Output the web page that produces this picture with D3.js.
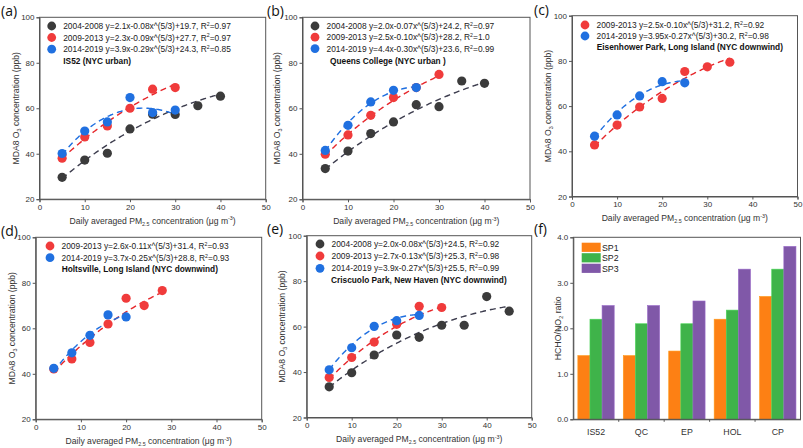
<!DOCTYPE html>
<html><head><meta charset="utf-8">
<script src="https://cdn.jsdelivr.net/npm/d3@7"></script>
<style>body{margin:0;background:#fff}svg{display:block}</style>
</head><body>
<svg id="chart" width="803" height="448"></svg>
<script>
// ---------------- DATA ----------------
const xStep5 = [5,10,15,20,25,30,35,40];
const xStep5e = [5,10,15,20,25,30,35,40,45];
const xStep4 = [4,8,12,16,20,24,28];

// (a) IS52
const a_p1 = [29.6, 37.2, 40.2, 50.9, 57.4, 57.3, 61.1, 65.3];
const a_p2 = [38.0, 47.4, 52.2, 60.0, 68.4, 69.1];
const a_p3 = [40.1, 50.0, 54.0, 64.7, 58.1, 59.2];
// (b) Queens College
const b_p1 = [33.5, 41.2, 48.9, 54.0, 61.6, 60.7, 72.0, 71.0];
const b_p2 = [39.8, 48.3, 56.9, 64.7, 69.1, 74.9];
const b_p3 = [41.5, 52.5, 62.8, 67.9, 69.1];
// (c) Eisenhower Park
const c_p2 = [42.8, 51.6, 59.6, 63.4, 75.3, 77.4, 79.4];
const c_p3 = [46.7, 56.1, 64.5, 70.8, 70.3];
// (d) Holtsville
const d_p2 = [42.1, 46.5, 53.8, 61.9, 73.2, 70.0, 76.6];
const d_p3 = [42.4, 49.2, 56.9, 65.9, 65.0];
// (e) Criscuolo Park
const e_p1 = [33.5, 39.7, 47.5, 56.3, 55.3, 60.6, 60.6, 73.2, 66.8];
const e_p2 = [37.6, 46.4, 53.2, 61.0, 68.9, 68.4];
const e_p3 = [41.0, 50.7, 60.1, 62.6, 64.9];

// fit coefficients [a, b, c] for y = a*x - b*x^(5/3) + c (from legends)
const a_fit = [[2.1,0.08,19.7],[2.3,0.09,27.7],[3.9,0.29,24.3]];
const b_fit = [[2.0,0.07,24.2],[2.5,0.10,28.2],[4.4,0.30,23.6]];
const c_fit = [[2.5,0.10,31.2],[3.95,0.27,30.2]];
const d_fit = [[2.6,0.11,31.4],[3.7,0.25,28.8]];
const e_fit = [[2.0,0.08,24.5],[2.7,0.13,25.3],[3.9,0.27,25.5]];

const periods = ["2004-2008","2009-2013","2014-2019"];
const a_legend = [["2.1x-0.08x^(5/3)+19.7","0.97"],["2.3x-0.09x^(5/3)+27.7","0.97"],["3.9x-0.29x^(5/3)+24.3","0.85"]];
const b_legend = [["2.0x-0.07x^(5/3)+24.2","0.97"],["2.5x-0.10x^(5/3)+28.2","1.0"],["4.4x-0.30x^(5/3)+23.6","0.99"]];
const c_legend = [["2.5x-0.10x^(5/3)+31.2","0.92"],["3.95x-0.27x^(5/3)+30.2","0.98"]];
const d_legend = [["2.6x-0.11x^(5/3)+31.4","0.93"],["3.7x-0.25x^(5/3)+28.8","0.93"]];
const e_legend = [["2.0x-0.08x^(5/3)+24.5","0.92"],["2.7x-0.13x^(5/3)+25.3","0.98"],["3.9x-0.27x^(5/3)+25.5","0.99"]];
const siteNames = ["IS52 (NYC urban)","Queens College (NYC urban )","Eisenhower Park, Long Island (NYC downwind)","Holtsville, Long Island (NYC downwind)","Criscuolo Park, New Haven (NYC downwind)"];

// (f) HCHO/NO2 ratio
const fSites = ["IS52","QC","EP","HOL","CP"];
const fSeries = ["SP1","SP2","SP3"];
const f_SP1 = [1.4, 1.4, 1.5, 2.2, 2.7];
const f_SP2 = [2.2, 2.1, 2.1, 2.4, 3.3];
const f_SP3 = [2.5, 2.5, 2.6, 3.3, 3.8];

const xTicks = [0,10,20,30,40,50];
const yTicks = [20,40,60,80,100];
const fTicks = [0,1,2,3,4];

// ---------------- STYLE ----------------
const ptColor = ["#3b3b3b","#f03b3b","#2070e0"];
const lnColor = ["#3d3d4e","#e6262a","#1f6fe0"];
const barColor = ["#fd8014","#3fb34a","#8058a8"];
const FONT = "'Liberation Sans', Arial, sans-serif";
const axisCol = "#555";
const txtCol = "#333";
const LEGFS = 8.4, TITFS = 8.6;

const svg = d3.select("#chart");

function richText(g, parts, size) {
  let shift = 0;
  parts.forEach(([t, m]) => {
    const ts = g.append("tspan").text(t);
    let target = 0, fs = size;
    if (m === "sub") { target = size*0.28; fs = size*0.62; }
    if (m === "sup") { target = -size*0.38; fs = size*0.62; }
    ts.attr("dy", target - shift).attr("font-size", fs);
    shift = target;
  });
  return g;
}

function scatterPanel(cfg) {
  const x = d3.scaleLinear().domain([0,50]).range([cfg.x0, cfg.x1]);
  const y = d3.scaleLinear().domain([20,100]).range([cfg.y1, cfg.y0]);
  const g = svg.append("g");
  g.append("rect").attr("x", cfg.x0).attr("y", cfg.y0).attr("width", cfg.x1-cfg.x0).attr("height", cfg.y1-cfg.y0)
    .attr("fill","none").attr("stroke", axisCol).attr("stroke-width", 1);
  const xa = g.append("g").attr("transform", `translate(0,${cfg.y1})`)
    .call(d3.axisBottom(x).tickValues(xTicks).tickSize(3).tickPadding(2));
  const ya = g.append("g").attr("transform", `translate(${cfg.x0},0)`)
    .call(d3.axisLeft(y).tickValues(yTicks).tickSize(3).tickPadding(2));
  [xa, ya].forEach(a => {
    a.select(".domain").attr("stroke", axisCol);
    a.selectAll(".tick line").attr("stroke", axisCol);
    a.selectAll(".tick text").attr("fill", txtCol).attr("font-size", 8).attr("font-family", FONT);
  });
  const line = d3.line().x(d => x(d[0])).y(d => y(d[1]));
  cfg.series.forEach(s => {
    const [A,B,C] = s.fit;
    const pts = d3.range(s.xs[0], s.xs[s.xs.length-1] + 0.001, 0.25).map(v => [v, A*v - B*Math.pow(v,5/3) + C]);
    g.append("path").attr("d", line(pts)).attr("fill","none").attr("stroke", lnColor[s.c])
      .attr("stroke-width", 1.4).attr("stroke-dasharray","6,4");
  });
  cfg.series.forEach(s => {
    g.selectAll(null).data(s.vals).enter().append("circle")
      .attr("cx", (d,i) => x(s.xs[i])).attr("cy", d => y(d)).attr("r", 4.6)
      .attr("fill", ptColor[s.c]);
  });
  cfg.series.forEach((s, i) => {
    const ly = cfg.ly[i];
    g.append("circle").attr("cx", cfg.lx).attr("cy", ly).attr("r", 4.4).attr("fill", ptColor[s.c]);
    const t = g.append("text").attr("x", cfg.lx + 11.5).attr("y", ly + 3.1).attr("font-size", LEGFS)
      .attr("font-family", FONT).attr("fill", "#222");
    richText(t, [[periods[s.c] + " y=" + s.leg[0] + ", R",""],["2","sup"],["=" + s.leg[1],""]], LEGFS);
  });
  g.append("text").attr("x", cfg.bx).attr("y", cfg.by + 3.1).attr("font-size", 8.3).attr("font-weight","bold")
    .attr("font-family", FONT).attr("fill","#111").text(cfg.name);
  const xt = g.append("text").attr("x", (cfg.x0+cfg.x1)/2).attr("y", cfg.y1 + 24.5).attr("text-anchor","middle")
    .attr("font-size", TITFS).attr("font-family", FONT).attr("fill", txtCol);
  richText(xt, [["Daily averaged PM",""],["2.5","sub"],[" concentration (μg m",""],["-3","sup"],[")",""]], TITFS);
  const yt = g.append("text").attr("transform", `translate(${cfg.ytx},${(cfg.y0+cfg.y1)/2}) rotate(-90)`)
    .attr("text-anchor","middle").attr("font-size", TITFS).attr("font-family", FONT).attr("fill", txtCol);
  richText(yt, [["MDA8 O",""],["3","sub"],[" concentration (ppb)",""]], TITFS);
  svg.append("text").attr("x", cfg.labx).attr("y", cfg.laby).attr("font-size", 14)
    .attr("font-family", "'Open Sans', 'DejaVu Sans', sans-serif").attr("fill","#111").text(cfg.label);
}

scatterPanel({label:"(a)", labx:1, laby:16, x0:39.5, x1:265.7, y0:17.3, y1:199.2, ytx:18.5,
  lx:51.7, ly:[26,37.5,49.2], bx:63.3, by:61.2, name: siteNames[0],
  series:[{c:0, xs:xStep5, vals:a_p1, fit:a_fit[0], leg:a_legend[0]},
          {c:1, xs:xStep5.slice(0,6), vals:a_p2, fit:a_fit[1], leg:a_legend[1]},
          {c:2, xs:xStep5.slice(0,6), vals:a_p3, fit:a_fit[2], leg:a_legend[2]}]});
scatterPanel({label:"(b)", labx:267, laby:16, x0:302.5, x1:530, y0:17.3, y1:199.3, ytx:279.5,
  lx:315, ly:[26,37.2,48.6], bx:330, by:60.5, name: siteNames[1],
  series:[{c:0, xs:xStep5, vals:b_p1, fit:b_fit[0], leg:b_legend[0]},
          {c:1, xs:xStep5.slice(0,6), vals:b_p2, fit:b_fit[1], leg:b_legend[1]},
          {c:2, xs:xStep5.slice(0,5), vals:b_p3, fit:b_fit[2], leg:b_legend[2]}]});
scatterPanel({label:"(c)", labx:534, laby:15, x0:572, x1:797.5, y0:15.7, y1:196.5, ytx:551,
  lx:585, ly:[25,36], bx:596.7, by:47.3, name: siteNames[2],
  series:[{c:1, xs:xStep5.slice(0,7), vals:c_p2, fit:c_fit[0], leg:c_legend[0]},
          {c:2, xs:xStep5.slice(0,5), vals:c_p3, fit:c_fit[1], leg:c_legend[1]}]});
scatterPanel({label:"(d)", labx:1, laby:236, x0:35.7, x1:261.7, y0:237.3, y1:419.3, ytx:14.5,
  lx:50, ly:[246,257.7], bx:61.7, by:269.3, name: siteNames[3],
  series:[{c:1, xs:xStep4, vals:d_p2, fit:d_fit[0], leg:d_legend[0]},
          {c:2, xs:xStep4.slice(0,5), vals:d_p3, fit:d_fit[1], leg:d_legend[1]}]});
scatterPanel({label:"(e)", labx:267, laby:234, x0:306.7, x1:531.7, y0:235.7, y1:417.5, ytx:285,
  lx:320, ly:[244,256,268.3], bx:331, by:280, name: siteNames[4],
  series:[{c:0, xs:xStep5e, vals:e_p1, fit:e_fit[0], leg:e_legend[0]},
          {c:1, xs:xStep5e.slice(0,6), vals:e_p2, fit:e_fit[1], leg:e_legend[1]},
          {c:2, xs:xStep5e.slice(0,5), vals:e_p3, fit:e_fit[2], leg:e_legend[2]}]});

// ---------------- (f) bars ----------------
(function(){
  const x0 = 573.3, x1 = 800.5, y0 = 237.3, y1 = 419.3;
  const x = d3.scaleBand().domain(fSites).range([x0, x1]).paddingInner(0.2).paddingOuter(0.1);
  const xs = d3.scaleBand().domain(fSeries).range([0, x.bandwidth()]);
  const y = d3.scaleLinear().domain([0,4]).range([y1, y0]);
  const vals = [f_SP1, f_SP2, f_SP3];
  const g = svg.append("g");
  fSeries.forEach((s, k) => {
    g.selectAll(null).data(vals[k]).enter().append("rect")
      .attr("x", (d,i) => x(fSites[i]) + xs(s)).attr("y", d => y(d))
      .attr("width", xs.bandwidth()).attr("height", d => y1 - y(d))
      .attr("fill", barColor[k]).attr("stroke", d3.color(barColor[k]).brighter(0.5)).attr("stroke-width", 0.6);
  });
  g.append("rect").attr("x", x0).attr("y", y0).attr("width", x1-x0).attr("height", y1-y0)
    .attr("fill","none").attr("stroke", axisCol);
  const xa = g.append("g").attr("transform", `translate(0,${y1})`).call(d3.axisBottom(x).tickSize(0).tickPadding(9));
  const ya = g.append("g").attr("transform", `translate(${x0},0)`).call(d3.axisLeft(y).tickValues(fTicks).tickSize(3).tickPadding(2));
  [xa, ya].forEach(a => {
    a.select(".domain").attr("stroke", axisCol);
    a.selectAll(".tick line").attr("stroke", axisCol);
    a.selectAll(".tick text").attr("fill", txtCol).attr("font-size", 8.8).attr("font-family", FONT);
  });
  ya.selectAll(".tick text").attr("font-size", 8);
  const step = x.step();
  g.selectAll(null).data(fSites.slice(1)).enter().append("line")
    .attr("x1", d => x(d) - step*x.paddingInner()/2).attr("x2", d => x(d) - step*x.paddingInner()/2)
    .attr("y1", y1).attr("y2", y1 + 2.5).attr("stroke", axisCol);
  fSeries.forEach((s, k) => {
    const ly = 247.3 + k*10.5;
    g.append("rect").attr("x", 581.7).attr("y", ly - 4.6).attr("width", 19).attr("height", 9.2)
      .attr("fill", barColor[k]);
    g.append("text").attr("x", 602).attr("y", ly + 3.2).attr("font-size", 8.8).attr("font-family", FONT)
      .attr("fill", "#222").text(s);
  });
  const yt = g.append("text").attr("transform", `translate(561,${(y0+y1)/2}) rotate(-90)`)
    .attr("text-anchor","middle").attr("font-size", 8.8).attr("font-family", FONT).attr("fill", txtCol);
  richText(yt, [["HCHO/NO",""],["2","sub"],[" ratio",""]], 8.8);
  svg.append("text").attr("x", 534).attr("y", 234).attr("font-size", 14)
    .attr("font-family", "'Open Sans', 'DejaVu Sans', sans-serif").attr("fill","#111").text("(f)");
})();
</script>
</body></html>
